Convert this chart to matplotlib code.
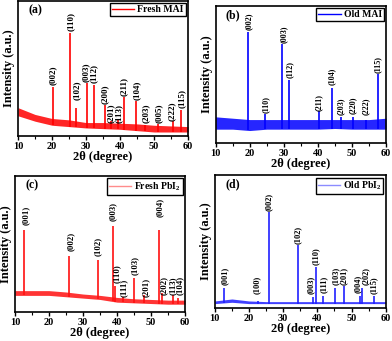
import numpy as np
import matplotlib.pyplot as plt
from matplotlib.lines import Line2D
from matplotlib.ticker import MultipleLocator

plt.rcParams['font.family'] = ['Liberation Serif', 'DejaVu Serif']
plt.rcParams['font.weight'] = 'bold'
plt.rcParams['mathtext.fontset'] = 'custom'
plt.rcParams['mathtext.rm'] = 'Liberation Serif:bold'
plt.rcParams['mathtext.it'] = 'Liberation Serif:bold'
plt.rcParams['mathtext.bf'] = 'Liberation Serif:bold'

# 2theta onde foi lida a faixa de ruido de fundo
fundo_x = [10, 15, 20, 25, 30, 35, 40, 45, 50, 55, 60]

# (a) Fresh MAI
a_fundo_min = [0.15, 0.11, 0.08, 0.07, 0.06, 0.055, 0.05, 0.04, 0.03, 0.03, 0.03]
a_fundo_max = [0.21, 0.16, 0.13, 0.12, 0.10, 0.10, 0.095, 0.09, 0.08, 0.075, 0.07]
a_pos = [20.3, 25.4, 27.1, 30.4, 32.4, 35.7, 37.2, 39.4, 41.2, 44.6, 47.3, 51.2, 55.5, 57.9]
a_alt = [0.36, 0.76, 0.21, 0.39, 0.38, 0.23, 0.11, 0.12, 0.29, 0.26, 0.08, 0.09, 0.11, 0.19]
a_hkl = ['(002)', '(110)', '(102)', '(003)', '(112)', '(200)', '(201)', '(113)',
         '(211)', '(104)', '(203)', '(005)', '(222)', '(115)']
a_txt_x = [20.3, 25.4, 27.4, 30.0, 32.4, 35.6, 37.4, 39.7, 41.2, 45.0, 47.6, 51.5, 55.3, 58.2]
a_txt_y = [0.38, 0.78, 0.27, 0.40, 0.39, 0.24, 0.10, 0.10, 0.30, 0.27, 0.10, 0.10, 0.11, 0.21]

# (b) Old MAI
b_fundo_min = [0.10, 0.10, 0.09, 0.10, 0.10, 0.10, 0.10, 0.105, 0.10, 0.10, 0.10]
b_fundo_max = [0.19, 0.18, 0.17, 0.17, 0.17, 0.17, 0.17, 0.17, 0.17, 0.17, 0.18]
b_pos = [19.5, 24.5, 29.6, 31.6, 40.2, 44.0, 46.8, 50.4, 54.0, 57.5]
b_alt = [0.81, 0.21, 0.72, 0.46, 0.23, 0.40, 0.19, 0.19, 0.17, 0.50]
b_hkl = ['(002)', '(110)', '(003)', '(112)', '(211)', '(104)', '(203)', '(220)', '(222)', '(115)']
b_txt_x = [19.6, 24.6, 29.9, 31.8, 40.3, 44.0, 46.8, 50.2, 53.9, 57.6]
b_txt_y = [0.82, 0.22, 0.73, 0.47, 0.23, 0.42, 0.20, 0.21, 0.20, 0.51]

# (c) Fresh PbI2
c_fundo_min = [0.12, 0.12, 0.12, 0.11, 0.10, 0.09, 0.07, 0.065, 0.06, 0.055, 0.055]
c_fundo_max = [0.155, 0.155, 0.155, 0.145, 0.13, 0.12, 0.105, 0.095, 0.09, 0.085, 0.085]
c_pos = [12.7, 25.9, 34.3, 38.7, 39.5, 41.7, 45.1, 47.9, 52.4, 53.2, 56.5, 57.8]
c_alt = [0.60, 0.41, 0.38, 0.63, 0.19, 0.11, 0.25, 0.12, 0.60, 0.14, 0.12, 0.10]
c_hkl = ['(001)', '(002)', '(102)', '(003)', '(110)', '(111)', '(103)', '(201)',
         '(004)', '(202)', '(113)', '(104)']
c_txt_x = [13.2, 26.4, 34.4, 38.8, 40.0, 41.9, 45.3, 48.4, 52.6, 53.9, 56.4, 58.5]
c_txt_y = [0.64, 0.45, 0.41, 0.67, 0.21, 0.11, 0.27, 0.11, 0.70, 0.12, 0.12, 0.12]

# (d) Old PbI2
d_fundo_min = [0.03, 0.04, 0.03, 0.03, 0.03, 0.03, 0.03, 0.03, 0.03, 0.03, 0.03]
d_fundo_max = [0.05, 0.065, 0.05, 0.045, 0.045, 0.045, 0.045, 0.045, 0.045, 0.045, 0.045]
d_pos = [12.7, 22.5, 25.9, 34.3, 38.7, 39.5, 41.6, 45.2, 47.9, 52.4, 53.2, 56.5]
d_alt = [0.15, 0.05, 0.72, 0.47, 0.08, 0.31, 0.09, 0.15, 0.16, 0.09, 0.15, 0.09]
d_hkl = ['(001)', '(100)', '(002)', '(102)', '(003)', '(110)', '(111)', '(103)',
         '(201)', '(004)', '(202)', '(115)']
d_txt_x = [13.0, 22.3, 25.9, 34.3, 38.0, 39.6, 42.0, 45.3, 47.8, 51.8, 54.1, 56.6]
d_txt_y = [0.17, 0.10, 0.73, 0.48, 0.10, 0.32, 0.11, 0.17, 0.17, 0.11, 0.17, 0.10]

paineis = [
    ('(a)', 'Fresh MAI', '#ff0000', '#ff0000', [0.046, 0.601, 0.434, 0.396],
     a_fundo_min, a_fundo_max, a_pos, a_alt, a_hkl, a_txt_x, a_txt_y, 6.5),
    ('(b)', 'Old MAI', '#0000ff', '#0000ff', [0.550, 0.581, 0.435, 0.402],
     b_fundo_min, b_fundo_max, b_pos, b_alt, b_hkl, b_txt_x, b_txt_y, 5.8),
    ('(c)', 'Fresh PbI$_2$', '#ff1010', '#ff8c8c', [0.038, 0.086, 0.434, 0.398],
     c_fundo_min, c_fundo_max, c_pos, c_alt, c_hkl, c_txt_x, c_txt_y, 6.3),
    ('(d)', 'Old PbI$_2$', '#2020ff', '#8c8cff', [0.548, 0.098, 0.436, 0.388],
     d_fundo_min, d_fundo_max, d_pos, d_alt, d_hkl, d_txt_x, d_txt_y, 6.0),
]

fig = plt.figure(figsize=(3.92, 3.41), dpi=100)

for (letra, nome, cor, cor_leg, caixa, fmin, fmax, pos, alt, hkl, tx, ty, fs) in paineis:
    ax = fig.add_axes(caixa)
    ax.fill_between(fundo_x, fmin, fmax, color=cor, alpha=0.85, lw=0)
    base = np.interp(pos, fundo_x, fmin)
    ax.vlines(pos, base, alt, color=cor, lw=1.2)
    for x, y, t in zip(tx, ty, hkl):
        ax.text(x, y, t, rotation=90, ha='center', va='bottom', fontsize=fs, fontweight='bold')
    ax.text(0.06, 0.93, letra, transform=ax.transAxes, fontsize=8.5, fontweight='bold', va='center')
    leg = ax.legend(handles=[Line2D([], [], color=cor_leg, lw=1)], labels=[nome], loc='upper right',
                    fontsize=7, fancybox=False, edgecolor='black', framealpha=1, borderpad=0.2,
                    handlelength=2.3, handletextpad=0.3, borderaxespad=0.25)
    leg.get_frame().set_linewidth(1.0)
    ax.set_xlim(10, 60)
    ax.set_ylim(0, 1)
    ax.xaxis.set_major_locator(MultipleLocator(10))
    ax.xaxis.set_minor_locator(MultipleLocator(5))
    ax.tick_params(axis='x', which='major', length=3, width=1, labelsize=7.5, pad=1.5)
    ax.tick_params(axis='x', which='minor', length=2, width=0.8)
    ax.set_yticks([])
    for sp in ax.spines.values():
        sp.set_linewidth(1.2)
    ax.set_xlabel('2θ (degree)', fontsize=9, fontweight='bold', labelpad=0)
    ax.set_ylabel('Intensity (a.u.)', fontsize=9, fontweight='bold', labelpad=2)

plt.savefig('out.png', dpi=100)
